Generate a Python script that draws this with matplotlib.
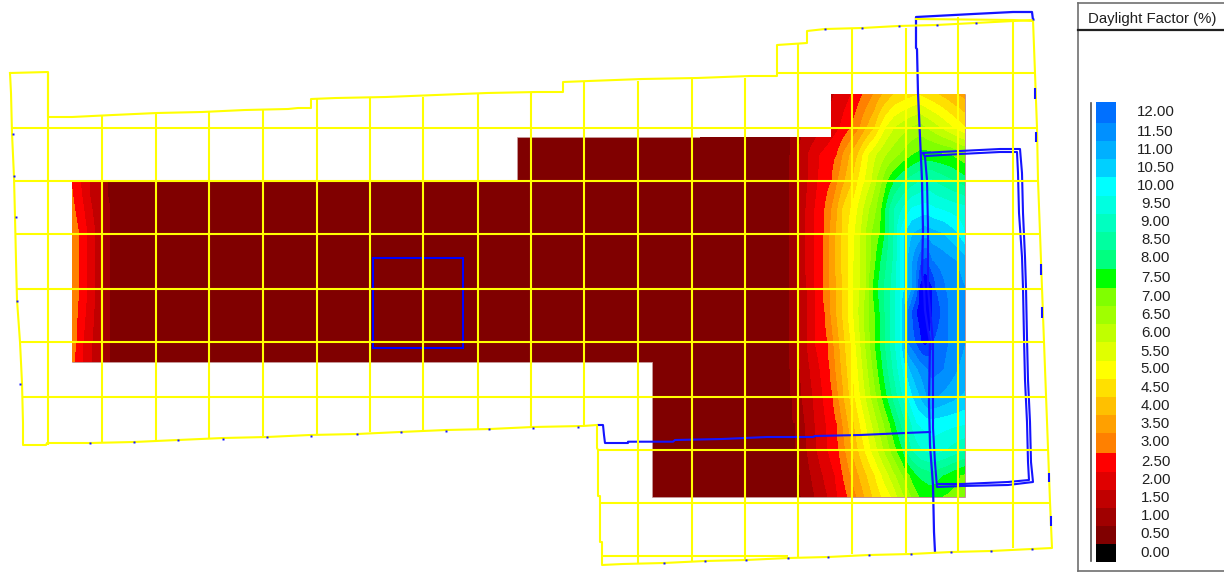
import numpy as np
import matplotlib
matplotlib.use("Agg")
import matplotlib.pyplot as plt
from matplotlib.colors import ListedColormap, BoundaryNorm
from matplotlib.patches import Polygon

plt.rcParams['font.family'] = ['Liberation Sans', 'DejaVu Sans']

# ---- legend ----
legend_labels = ["12.00","11.50","11.00","10.50","10.00","9.50","9.00","8.50","8.00","7.50","7.00","6.50",
                 "6.00","5.50","5.00","4.50","4.00","3.50","3.00","2.50","2.00","1.50","1.00","0.50","0.00"]
legend_label_y = [110.7,130.7,149,166.7,185,203,221.7,239,257,277,296,314,332,350.7,368,386.7,405,423,441,461,479,497,515,533,552]
legend_edges = [101.7,122.7,140.7,159,177,195.7,214,231.7,250,269.3,288,306,324,342.3,361,379,397,415,433,453.3,471.7,489.7,507.7,526,544.3,562.3]
legend_colors = ["#0070ff","#0090ff","#00b0ff","#00d0ff","#00ffff","#00ffe0","#00ffc0","#00ffa0","#00ff80","#00ff00",
                 "#80ff00","#a0ff00","#c0ff00","#e0ff00","#ffff00","#ffe000","#ffc000","#ffa000","#ff8000","#ff0000",
                 "#e00000","#c00000","#a00000","#800000","#000000"]
extra_levels = [12.5, 13.0, 30.0]
extra_colors = ["#0040ff", "#0000ff"]

# ---- daylight factor, read along rows of the floor (y row, x knots, values) ----
rows_y = [94,128,155,181,208,234,261,288,312,342,369,396,423,450,475,497]
rows_x = [
 [800,831,852,863,874,883,895,918,937,955,965],
 [790,805,825,840,851,860,867,875,880,886,895,910,920,940,965],
 [790,798,808,820,837,843,850,858,863,869,877,887,900,913,923,950,965],
 [789,798,808,818,832,838,845,853,858,865,872,877,883,888,895,905,920,930,937,965],
 [789,797,806,815,825,832,838,843,851,858,864,870,877,882,886,890,895,903,912,925,935,965],
 [789,797,805,814,824,830,836,842,848,855,861,866,872,880,885,889,894,897,900,905,913,925,943,957,965],
 [789,797,805,814,823,829,835,841,848,854,860,866,871,876,881,887,893,897,900,904,908,913,918,922,926,932,956,965],
 [789,798,807,815,823,830,837,843,848,853,860,866,869,873,878,884,891,896,900,905,909,912,916,918.5,920,925,932,935,945,965],
 [789,798,807,815,825,848,875,900,908,917,925,932,948,965],
 [789,798,807,815,828,851,875,900,908,916,922,925,928,932,948,965],
 [790,800,810,820,830,853,878,903,910,918,928,932,943,957,965],
 [792,802,813,823,833,855,882,908,913,920,927,932,937,960,965],
 [795,805,815,826,837,860,890,917,930,950,965],
 [797,807,817,828,839,865,897,903,906,912,922,935,945,965],
 [800,811,823,835,843,875,910,917,930,943,960,965],
 [802,815,828,838,848,857,865,873,882,892,898,905,912,920,935,940,965],
]
rows_v = [
 [1.0,1.9,2.5,3,3.5,4,4.5,4.95,4.5,4.0,3.8],
 [1,1.5,2,2.5,3,3.5,4,4.5,5,5.5,6,6.5,6.7,6.0,5.0],
 [1,1.5,2,2.5,3,3.5,4,4.5,5,5.5,6,6.5,7,7.5,7.7,7.5,7.1],
 [1,1.5,2,2.5,3,3.5,4,4.5,5,5.5,6,6.5,7,7.5,8,8.5,9,9.1,8.9,8.2],
 [1,1.5,2,2.5,3,3.5,4,4.5,5,5.5,6,6.5,7,7.5,8,8.5,9,9.5,10,10.2,10,9.6],
 [1,1.5,2,2.5,3,3.5,4,4.5,5,5.5,6,6.5,7,7.5,8,8.5,9,9.5,10,10.5,11,11.3,11,10.5,10.0],
 [1,1.5,2,2.5,3,3.5,4,4.5,5,5.5,6,6.5,7,7.5,8,8.5,9,9.5,10,10.5,11,11.5,12,12.5,12.6,12,11.5,11.2],
 [1,1.5,2,2.5,3,3.5,4,4.5,5,5.5,6,6.5,7,7.5,8,8.5,9,9.5,10,10.5,11,11.5,12,12.5,13,13.4,13,12.5,12,11.5],
 [1,1.5,2,2.5,3,5,7.5,10,12,13,13.5,13,12,11.5],
 [1,1.5,2,2.5,3,5,7.5,10,12,12.5,13,13.1,13,12.5,12,11.5],
 [1,1.5,2,2.5,3,5,7.5,10,11,11.5,12,12.2,12,11.5,11.3],
 [1,1.5,2,2.5,3,5,7.5,10,10.5,11,11.5,11.6,11.5,11,10.9],
 [1,1.5,2,2.5,3,5,7.5,10,10.3,10.15,10.05],
 [1,1.5,2,2.5,3,5,7.5,8,8.5,9,9.5,9.7,9.5,9],
 [1,1.5,2,2.5,3,5,7.5,8,8.3,8,7.5,7.4],
 [1,1.5,2,2.5,3,3.5,4,4.5,5,5.5,6,6.5,7,7.5,7.7,7.5,7.2],
]
west_y = [181,197,234,288,342,362]
west_x = [
 [72,80,90,102,108],
 [72,73,82,90,100,108],
 [72,79,87,95,103,110],
 [72,79,87,95,103,110],
 [72,76,83,92,102,110],
 [72,74,83,92,102,110],
]
west_v = [
 [2.9,2.5,2,1.5,1],
 [3.1,3.0,2.5,2,1.5,1],
 [3.3,3.0,2.5,2,1.5,1],
 [3.3,3.0,2.5,2,1.5,1],
 [3.2,3.0,2.5,2,1.5,1],
 [3.1,3.0,2.5,2,1.5,1],
]
floor_x = [72,517,517,831,831,965,965,652,652,72]
floor_y = [181,181,137,137,94,94,497,497,362,362]
floor_value = 0.7

# ---- yellow analysis grid and outline ----
outline_x = [10,48,48,72,113,157,202,245,288,298,311,311,336,386,436,487,537,563,563,589,642,697,750,777,777,792,807,807,825,862,898,936,975,1033,
             1035,1037,1038,1040,1042,1044,1046,1048,1050,1052,
             991,951,911,869,828,788,746,705,664,623,602,602,600,600,598,598,597,597,583,533,490,446,400,357,310,267,223,178,134,90,47,46,23,23,22,20,17,16,15,14,12,11,10]
outline_y = [73,72,117,117,115,113,112,110,109,108,108,99,98,97,95,93,92,92,82,81,79,78,76,76,45,44,43,31,29,28,26,25,23,20,
             73,128,180,233,288,342,395,448,502,548,
             551,552,554,555,557,558,560,561,563,564,565,542,542,496,496,450,448,425,426,427,429,430,432,434,435,437,438,440,442,443,443,445,445,423,383,342,300,260,217,177,133,93,73]
grid_v_x = [48,102,155.5,209,263,317,370,423,478,531,584,638,692,745,798,852,906,958,1013]
grid_v_top = [72,116,113,111,110,99,98,97,94,93,82,81,79,78,43,29,28,17,20]
grid_v_bot = [445,442,440,438,437,435,432,431,429,427,426,563,562,560,557,554,553,551,548]
grid_h_y = [73,128,181,234,288.5,342,396.5,449.5,502.5,556]
grid_h_x0 = [777,12,14,16,17,20,22,598,601,603]
grid_h_x1 = [1035,1037,1038,1040,1042,1044,1046,1048,1050,788]
roof_x = [916,1013,1033]
roof_y = [19,20,21]

# ---- blue building lines ----
room_x = [372.7,462.7,462.7,372.7,372.7]
room_y = [258.3,258.3,347.7,347.7,258.3]
wall_x = [935,934,933,930,929,930,928,925,924,922,923,922,920,918,917,916,916,935,973,1013,1032,1033]
wall_y = [552,532,485,445,402,342,330,310,288,273,230,180,137,93,49,48,17,16,14,12,12,20]
win_a_x = [923,940,960,980,1000,1020,1022,1023,1025,1026,1027,1028,1030,1031,1033,1008,962,937,935,933,933,928,928,927,925,923]
win_a_y = [153,152,151,150,149,149,173,213,257,288,338,380,422,462,482,485,486,487,463,428,342,288,227,180,157,153]
win_b_x = [926,960,1000,1017,1018,1019,1022,1023,1024,1025,1027,1028,1029,1008,962,938]
win_b_y = [156,154,152,152,173,213,257,288,338,380,422,462,480,482,484,484]
beam_x = [598,603,604,605,628,628,673,675,722,767,813,815,860,905,930]
beam_y = [425,425,435,443,443,441.7,441.7,440,439,437,437,436,435,433,432]
tick_x = [311,357,401,446,489,533,578,664,705,746,788,828,869,911,951,991,1032,13,14,16,17,20,90,134,178,223,267,825,862,899,937,976,1033]
tick_y = [436,434,432,431,429,428,427,563,561,560,558,557,555,554,552,551,549,134,176,217,301,384,443,442,440,439,437,29,28,26,25,23,19]
dash_x = [1035,1036,1041,1042,1049,1051]
dash_y0 = [88,132,264,307,473,516]
dash_y1 = [99,142,275,318,482,526]

# ---- drawing ----
fig = plt.figure(figsize=(12.24, 5.72), dpi=100)
ax = fig.add_axes([0, 0, 1, 1])
ax.set_xlim(0, 1224)
ax.set_ylim(572, 0)
ax.axis("off")

levels = [float(s) for s in legend_labels[::-1]] + extra_levels
colors = legend_colors[::-1] + extra_colors
cmap = ListedColormap(colors)
norm = BoundaryNorm(levels, cmap.N)

floor = Polygon(np.column_stack([floor_x, floor_y]), closed=True, facecolor="#800000",
                edgecolor="#c8a0a0", linewidth=0.5, zorder=1)
ax.add_patch(floor)

xg = np.arange(700, 966)
Z = np.array([np.interp(xg, [700] + x, [floor_value] + v) for x, v in zip(rows_x, rows_v)])
cs = ax.contourf(xg, rows_y, Z, levels=levels, cmap=cmap, norm=norm, antialiased=False, zorder=2)
cs.set_clip_path(floor)

xw = np.arange(72, 131)
Zw = np.array([np.interp(xw, x + [130], v + [floor_value]) for x, v in zip(west_x, west_v)])
cw = ax.contourf(xw, west_y, Zw, levels=levels, cmap=cmap, norm=norm, antialiased=False, zorder=2)
cw.set_clip_path(floor)

blue = "#1414ff"
ax.plot(room_x, room_y, color="#0000ff", lw=1.5, zorder=3, solid_joinstyle="miter")
ax.plot(wall_x, wall_y, color=blue, lw=1.6, zorder=3)
ax.plot(win_a_x, win_a_y, color=blue, lw=1.5, zorder=3)
ax.plot(win_b_x, win_b_y, color=blue, lw=1.5, zorder=3)
ax.plot(beam_x, beam_y, color=blue, lw=1.5, zorder=3)

yellow = "#ffff00"
ax.plot(outline_x, outline_y, color=yellow, lw=1.5, zorder=4)
ax.plot(roof_x, roof_y, color=yellow, lw=1.5, zorder=4)
ax.vlines(grid_v_x, grid_v_top, grid_v_bot, color=yellow, lw=1.5, zorder=4)
ax.hlines(grid_h_y, grid_h_x0, grid_h_x1, color=yellow, lw=1.5, zorder=4)
ax.plot(tick_x, tick_y, ls="none", marker="s", ms=1.6, mfc=blue, mec="none", zorder=5)
ax.vlines(dash_x, dash_y0, dash_y1, color=blue, lw=1.5, zorder=5)

# legend panel
ax.plot([1078, 1078], [3, 571], color="#707070", lw=1.2, zorder=6)
ax.plot([1078, 1224], [3, 3], color="#707070", lw=1.2, zorder=6)
ax.plot([1078, 1224], [571, 571], color="#707070", lw=1.2, zorder=6)
ax.plot([1078, 1224], [30, 30], color="#202020", lw=1.6, zorder=6)
ax.text(1152, 18.5, "Daylight Factor (%)", ha="center", va="center", fontsize=10.8, color="#202020", zorder=7)
ax.plot([1090.7, 1090.7], [103, 561], color="#505050", lw=1.2, zorder=6)
edges = np.array(legend_edges)
ax.bar(np.full(len(legend_colors), 1106), edges[1:] - edges[:-1], width=20, bottom=edges[:-1],
       color=legend_colors, linewidth=0, zorder=6)
for lab, y in zip(legend_labels, legend_label_y):
    ax.text(1155.5, y + 0.8, lab, ha="center", va="center", fontsize=10.8, color="#202020", zorder=7)

fig.savefig("out.png", dpi=100)
